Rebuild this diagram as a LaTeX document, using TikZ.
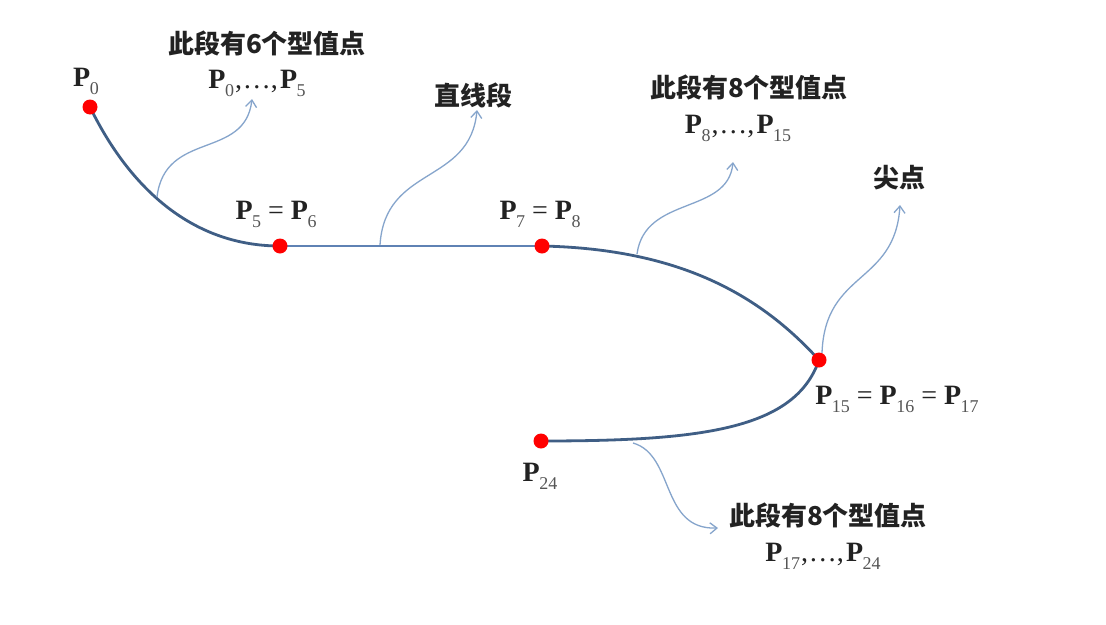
\documentclass[tikz,border=0pt]{standalone}
\usepackage{fontspec}
\setmainfont{Liberation Serif}
\newfontfamily\cjk{Noto Sans CJK SC}
\usetikzlibrary{arrows.meta}
\definecolor{curvec}{HTML}{3F5E85}
\definecolor{linec}{HTML}{5F82B4}
\definecolor{arrc}{HTML}{86A5CC}
\definecolor{txtc}{HTML}{222222}
\definecolor{subc}{HTML}{555555}
\newcommand\Pt[1]{\textbf{P}\kern-0.5pt\raisebox{-0.3em}{\fontsize{18}{18}\selectfont\color{subc}#1}}
\newcommand\Pdots{\kern1pt,\kern1pt\ldots,\kern2pt}
\tikzset{
  dot/.style={circle,fill=red,inner sep=0pt,minimum size=15pt},
  curvepath/.style={draw=curvec,line width=2.8pt},
  flatpath/.style={draw=linec,line width=2.6pt},
  callout/.style={draw=arrc,line width=1.3pt,-{Straight Barb[length=7pt,width=11pt]}},
  cn/.style={font=\cjk\bfseries\fontsize{26}{26}\selectfont,text=txtc,inner sep=0pt},
  pl/.style={font=\fontsize{28}{28}\selectfont,text=txtc,inner sep=0pt,anchor=base},
}
\begin{document}
\begin{tikzpicture}[x=1pt,y=-1pt]
\useasboundingbox[fill=white] (0,0) rectangle (1106,624);

% curve
\coordinate (c0) at (90,107);
\coordinate (c5) at (280,246);
\coordinate (c7) at (542,246);
\coordinate (c15) at (819,360);
\coordinate (c24) at (541,441);
\draw[curvepath] (c0) .. controls (128,185) and (190,246) .. (c5);
\draw[flatpath] (c5) -- (c7);
\draw[curvepath] (c7) .. controls (680,249) and (760,295) .. (c15);
\draw[curvepath] (c15) .. controls (795,430) and (700,441) .. (c24);

% dots
\node[dot] (p0) at (c0) {};
\node[dot] (p5) at (c5) {};
\node[dot] (p7) at (c7) {};
\node[dot] (p15) at (c15) {};
\node[dot] (p24) at (c24) {};

% point labels
\node[pl] (lp0) at (86,86) {\Pt{0}};
\node[pl] (lp5) at (276,219) {\Pt{5} = \Pt{6}};
\node[pl] (lp7) at (540,219) {\Pt{7} = \Pt{8}};
\node[pl] (lp15) at (897,404) {\Pt{15} = \Pt{16} = \Pt{17}};
\node[pl] (lp24) at (540,481) {\Pt{24}};

% annotation texts
\node[cn] (t1) at (267,43) {此段有6个型值点};
\node[pl] (r1) at (257,88) {\Pt{0}\Pdots\Pt{5}};
\node[cn] (t2) at (473,95) {直线段};
\node[cn] (t3) at (749,87) {此段有8个型值点};
\node[pl] (r3) at (738,133) {\Pt{8}\Pdots\Pt{15}};
\node[cn] (t4) at (899,178) {尖点};
\node[cn] (t5) at (828,515) {此段有8个型值点};
\node[pl] (r5) at (823,561) {\Pt{17}\Pdots\Pt{24}};

% callout arrows
\coordinate (a1s) at (157,197);
\coordinate (a1e) at (252,99);
\coordinate (a2s) at (380,245);
\coordinate (a2e) at (477,110);
\coordinate (a3s) at (637,254);
\coordinate (a3e) at (733,162);
\coordinate (a4s) at (822,353);
\coordinate (a4e) at (900,205);
\coordinate (a5s) at (633,443);
\coordinate (a5e) at (718,528);
\draw[callout] (a1s) .. controls (165,130) and (245,160) .. (a1e);
\draw[callout] (a2s) .. controls (385,165) and (470,185) .. (a2e);
\draw[callout] (a3s) .. controls (645,195) and (728,215) .. (a3e);
\draw[callout] (a4s) .. controls (825,270) and (895,285) .. (a4e);
\draw[callout] (a5s) .. controls (675,455) and (660,530) .. (a5e);
\end{tikzpicture}
\end{document}
